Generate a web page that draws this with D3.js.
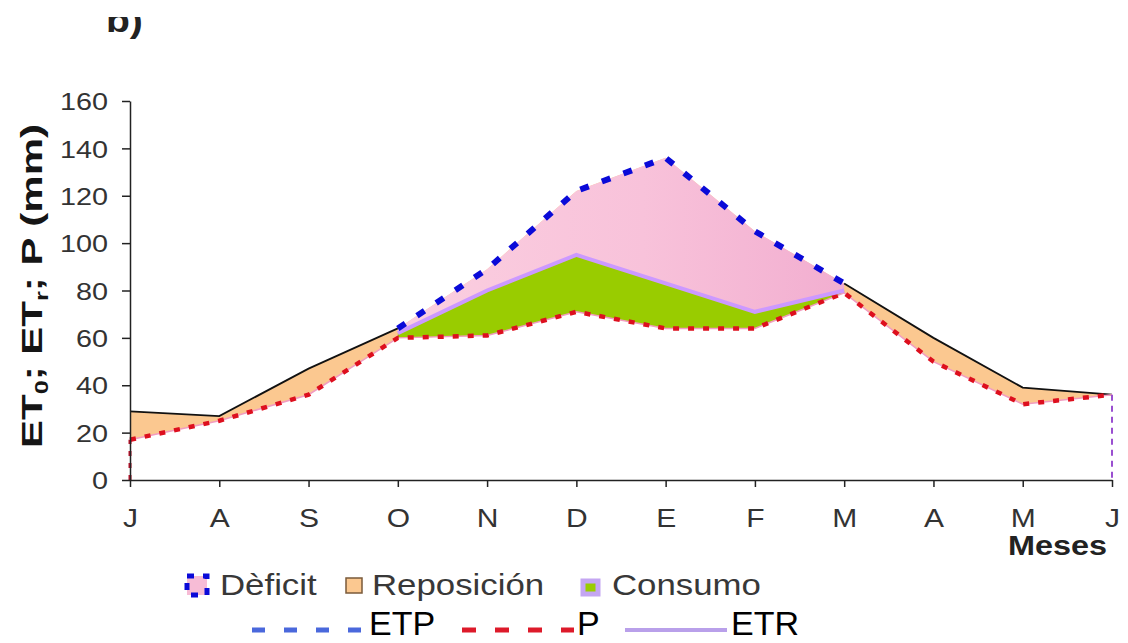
<!DOCTYPE html>
<html>
<head>
<meta charset="utf-8">
<script src="https://cdn.jsdelivr.net/npm/d3@7"></script>
<style>
  body { margin: 0; background: #fff; }
  svg { display: block; font-family: "Liberation Sans", Arial, sans-serif; }
</style>
</head>
<body>
<script>
// months (July .. June)
var months = ["J", "A", "S", "O", "N", "D", "E", "F", "M", "A", "M", "J"];
// ETP (mm)
var etp = [29, 27, 47, 64, 89, 122, 136, 105, 83, 60, 39, 36];
// P (mm)
var precip = [17, 25, 36, 60, 61, 71, 64, 64, 79, 50, 32, 36];
// ETR (mm), only where it departs from ETP
var etr = [null, null, null, 62, 80, 95, 83, 71, 80, null, null, null];
var yTicks = [0, 20, 40, 60, 80, 100, 120, 140, 160];

var width = 1128;
var height = 643;

var svg = d3.select("body").append("svg")
    .attr("width", width)
    .attr("height", height);

var x = d3.scalePoint()
    .domain(d3.range(months.length))
    .range([130, 1112]);

var y = d3.scaleLinear()
    .domain([0, 160])
    .range([480, 101]);

var all = d3.range(months.length);
var dry = all.filter(function(i) { return etr[i] != null; });
var wetA = all.filter(function(i) { return i <= dry[0]; });
var wetB = all.filter(function(i) { return i >= dry[dry.length - 1]; });

// gradient for the deficit area
var defs = svg.append("defs");
var grad = defs.append("linearGradient")
    .attr("id", "pinkGrad")
    .attr("gradientUnits", "userSpaceOnUse")
    .attr("x1", x(3)).attr("x2", x(8)).attr("y1", 0).attr("y2", 0);
grad.append("stop").attr("offset", "0%").attr("stop-color", "#fbcfe0");
grad.append("stop").attr("offset", "55%").attr("stop-color", "#f8c2da");
grad.append("stop").attr("offset", "100%").attr("stop-color", "#f2aed0");

defs.append("clipPath").attr("id", "titleClip")
    .append("rect").attr("x", 0).attr("y", 17).attr("width", 300).attr("height", 60);

// the cut panel letter at the top
svg.append("g")
    .attr("clip-path", "url(#titleClip)")
  .append("text")
    .attr("transform", "translate(106,32) scale(1.15,1)")
    .attr("font-size", 34)
    .attr("font-weight", "bold")
    .attr("fill", "#222")
    .text("b)");

// Reposición (orange) between ETP and P
svg.append("path")
    .datum(all)
    .attr("fill", "#fbc890")
    .attr("d", d3.area()
        .x(function(i) { return x(i); })
        .y0(function(i) { return y(precip[i]); })
        .y1(function(i) { return y(etp[i]); }));

// Déficit (pink) between ETP and ETR
svg.append("path")
    .datum(dry)
    .attr("fill", "url(#pinkGrad)")
    .attr("d", d3.area()
        .x(function(i) { return x(i); })
        .y0(function(i) { return y(etr[i]); })
        .y1(function(i) { return y(etp[i]); }));

// Consumo (green) between ETR and P
svg.append("path")
    .datum(dry)
    .attr("fill", "#99cc00")
    .attr("d", d3.area()
        .x(function(i) { return x(i); })
        .y0(function(i) { return y(precip[i]); })
        .y1(function(i) { return y(etr[i]); }));

var etpLine = d3.line()
    .x(function(i) { return x(i); })
    .y(function(i) { return y(etp[i]); });
var pLine = d3.line()
    .x(function(i) { return x(i); })
    .y(function(i) { return y(precip[i]); });
var etrLine = d3.line()
    .x(function(i) { return x(i); })
    .y(function(i) { return y(etr[i]); });

// black ETP outside the deficit period
[wetA, wetB].forEach(function(seg) {
    svg.append("path")
        .datum(seg)
        .attr("fill", "none")
        .attr("stroke", "#111")
        .attr("stroke-width", 1.8)
        .attr("d", etpLine);
});

// P: thin pink trace + red dashes
svg.append("path")
    .datum(all)
    .attr("fill", "none")
    .attr("stroke", "#f29cc0")
    .attr("stroke-width", 1.5)
    .attr("d", pLine);
svg.append("path")
    .datum(all)
    .attr("fill", "none")
    .attr("stroke", "#dd0f1e")
    .attr("stroke-width", 4.5)
    .attr("stroke-dasharray", "6 9")
    .attr("d", pLine);

// red dotted drop at the start
svg.append("line")
    .attr("x1", x(0)).attr("x2", x(0))
    .attr("y1", y(0)).attr("y2", y(precip[0]))
    .attr("stroke", "#c0102a")
    .attr("stroke-width", 3)
    .attr("stroke-dasharray", "5 7");

// purple dashed drop at the end
svg.append("line")
    .attr("x1", x(11)).attr("x2", x(11))
    .attr("y1", y(etp[11])).attr("y2", y(0))
    .attr("stroke", "#9a4fd0")
    .attr("stroke-width", 2)
    .attr("stroke-dasharray", "6 5");

// ETR purple
svg.append("path")
    .datum(dry)
    .attr("fill", "none")
    .attr("stroke", "#cc99ff")
    .attr("stroke-width", 4)
    .attr("d", etrLine);

// ETP blue dashes during the deficit
svg.append("path")
    .datum(dry)
    .attr("fill", "none")
    .attr("stroke", "#0a0ad8")
    .attr("stroke-width", 6)
    .attr("stroke-dasharray", "9 14")
    .attr("d", etpLine);

// axes
var yAxis = svg.append("g")
    .attr("transform", "translate(" + x(0) + ",0)")
    .call(d3.axisLeft(y).tickValues(yTicks).tickSize(8).tickSizeOuter(0));
yAxis.select(".domain").attr("stroke", "#222").attr("stroke-width", 1.5);
yAxis.selectAll(".tick line").attr("stroke", "#222").attr("stroke-width", 1.5);
yAxis.selectAll(".tick text")
    .attr("x", 0).attr("dy", "0.36em")
    .attr("transform", "translate(-22,0) scale(1.2,1)")
    .attr("font-size", 24)
    .attr("font-family", "Liberation Sans, Arial, sans-serif")
    .attr("fill", "#333");

var xAxis = svg.append("g")
    .attr("transform", "translate(0," + y(0) + ")")
    .call(d3.axisBottom(x).tickSize(7).tickSizeOuter(0)
        .tickFormat(function(i) { return months[i]; }));
xAxis.select(".domain").attr("stroke", "#222").attr("stroke-width", 1.5);
xAxis.selectAll(".tick line").attr("stroke", "#222").attr("stroke-width", 1.5);
xAxis.selectAll(".tick text")
    .attr("y", 0).attr("dy", 0)
    .attr("transform", "translate(0,47) scale(1.2,1)")
    .attr("font-size", 25)
    .attr("font-family", "Liberation Sans, Arial, sans-serif")
    .attr("fill", "#333");

svg.append("text")
    .attr("transform", "translate(1107,555) scale(1.2,1)")
    .attr("text-anchor", "end")
    .attr("font-size", 27)
    .attr("font-weight", "bold")
    .attr("fill", "#222")
    .text("Meses");

// y title with subscripts
var yTitle = svg.append("text")
    .attr("transform", "translate(42,286) rotate(-90) scale(1.4,1)")
    .attr("text-anchor", "middle")
    .attr("font-size", 30)
    .attr("font-weight", "bold")
    .attr("fill", "#151515");
yTitle.append("tspan").text("ET");
yTitle.append("tspan").attr("font-size", 18).attr("dy", 6).text("0");
yTitle.append("tspan").attr("dy", -6).text("; ET");
yTitle.append("tspan").attr("font-size", 18).attr("dy", 6).text("r");
yTitle.append("tspan").attr("dy", -6).text("; P (mm)");

// legend, first row (areas)
var leg1 = svg.append("g");
leg1.append("rect")
    .attr("x", 187).attr("y", 576).attr("width", 20).attr("height", 19)
    .attr("fill", "#f7bcd6")
    .attr("stroke", "#0a0ad8").attr("stroke-width", 5)
    .attr("stroke-dasharray", "7 9");
leg1.append("rect")
    .attr("x", 346).attr("y", 578).attr("width", 16).attr("height", 15)
    .attr("fill", "#fbc890")
    .attr("stroke", "#7a5a3a").attr("stroke-width", 1.5);
leg1.append("rect")
    .attr("x", 583).attr("y", 581).attr("width", 15).attr("height", 13)
    .attr("fill", "#99cc00")
    .attr("stroke", "#c4a6f2").attr("stroke-width", 5);

var legItems = [["Dèficit", 220], ["Reposición", 372], ["Consumo", 612]];
legItems.forEach(function(d) {
    leg1.append("text")
        .attr("transform", "translate(" + d[1] + ",595) scale(1.2,1)")
        .attr("font-size", 29)
        .attr("fill", "#383838")
        .text(d[0]);
});

// legend, second row (lines)
var leg2 = svg.append("g");
leg2.append("line")
    .attr("x1", 252).attr("x2", 361).attr("y1", 630).attr("y2", 630)
    .attr("stroke", "#4a68dc").attr("stroke-width", 5)
    .attr("stroke-dasharray", "13 19");
leg2.append("line")
    .attr("x1", 462).attr("x2", 574).attr("y1", 630).attr("y2", 630)
    .attr("stroke", "#dd1a2a").attr("stroke-width", 5)
    .attr("stroke-dasharray", "14 19");
leg2.append("line")
    .attr("x1", 625).attr("x2", 727).attr("y1", 630).attr("y2", 630)
    .attr("stroke", "#b9a0ea").attr("stroke-width", 4);

var lineItems = [["ETP", 369], ["P", 577], ["ETR", 731]];
lineItems.forEach(function(d) {
    leg2.append("text")
        .attr("transform", "translate(" + d[1] + ",635)")
        .attr("font-size", 34)
        .attr("fill", "#000")
        .text(d[0]);
});
</script>
</body>
</html>
